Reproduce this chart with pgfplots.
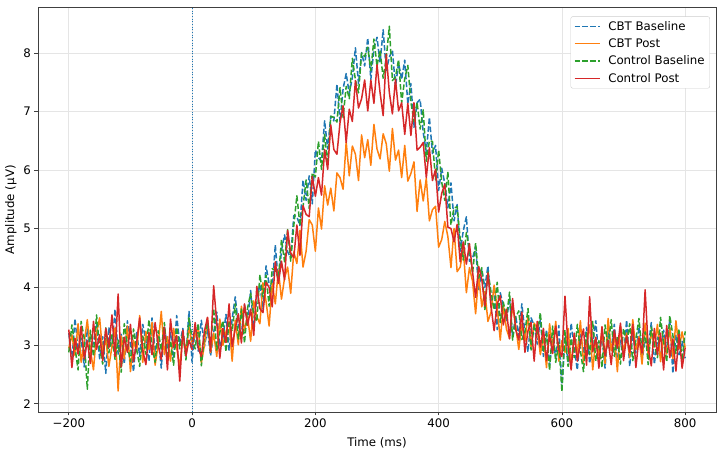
\documentclass[border=0pt]{standalone}
\usepackage{pgfplots}
\usepackage{pgfplotstable}
\usepackage{fontspec}
\setmainfont{DejaVu Sans}
\pgfplotsset{compat=1.18}
\definecolor{tabblue}{HTML}{1F77B4}
\definecolor{taborange}{HTML}{FF7F0E}
\definecolor{tabgreen}{HTML}{2CA02C}
\definecolor{tabred}{HTML}{D62728}
\newcommand\fs{\fontsize{11.8}{14}\selectfont}
\pgfplotsset{legend image code/.code={\draw[#1] (0pt,0pt) -- (25pt,0pt);}}
\pgfplotstableread{
t cb cp kb kp
-200 3.21 2.95 2.88 3.27
-195 2.74 3.18 3.35 2.62
-190 3.46 2.83 2.97 3.12
-185 2.91 3.37 2.58 2.85
-180 3.12 2.71 3.41 3.33
-175 2.63 3.05 3.12 2.77
-170 3.28 3.44 2.25 3.08
-165 2.86 2.92 3.26 2.69
-160 3.05 2.58 2.81 3.41
-155 3.38 3.21 3.52 2.93
-150 2.77 3.47 2.95 3.18
-145 3.15 2.86 2.68 2.74
-140 2.52 3.12 3.30 3.29
-135 3.31 2.64 2.87 2.96
-130 2.94 2.98 3.18 3.52
-125 3.62 3.30 2.76 2.81
-120 2.85 2.22 3.09 3.88
-115 3.19 3.16 2.54 2.63
-110 2.68 2.77 3.37 3.14
-105 3.42 3.33 3.01 2.88
-100 2.99 2.55 2.72 3.36
-95 2.55 3.08 3.28 2.72
-90 3.24 2.89 2.93 3.05
-85 2.81 3.51 2.64 3.47
-80 3.36 2.71 3.16 2.91
-75 3.07 3.24 2.85 2.67
-70 2.73 2.93 3.44 3.22
-65 3.47 3.39 2.98 2.84
-60 2.89 2.66 2.71 3.39
-55 3.14 3.02 3.25 3.01
-50 2.61 3.58 2.92 2.76
-45 3.33 2.84 3.39 3.31
-40 2.96 3.15 2.79 2.58
-35 3.22 2.73 3.08 3.45
-30 2.78 3.29 2.66 2.97
-25 3.51 2.96 3.31 3.17
-20 3.02 2.62 2.94 2.39
-15 3.29 3.19 3.22 3.26
-10 2.83 2.88 2.75 2.82
-5 3.58 3.31 3.47 3.09
0 2.71 3.04 3.12 2.93
5 3.32 3.18 2.94 3.39
10 2.90 3.30 3.38 2.96
15 3.43 2.70 2.65 2.81
20 2.98 3.00 3.17 3.24
25 3.27 3.47 3.38 3.48
30 2.82 2.88 2.96 2.90
35 3.21 3.21 3.63 4.02
40 3.57 2.81 2.92 3.39
45 2.98 3.45 3.22 2.78
50 3.13 3.00 3.42 3.29
55 3.53 3.23 2.89 3.05
60 2.91 3.41 3.39 3.71
65 3.45 2.73 3.24 2.98
70 3.83 3.43 3.71 3.29
75 3.35 3.01 3.11 3.54
80 3.19 3.67 3.62 3.04
85 3.69 3.25 3.04 3.71
90 3.41 3.50 3.64 3.34
95 3.94 3.07 3.89 3.62
100 3.27 3.76 3.52 3.17
105 3.83 3.49 3.41 4.01
110 4.04 3.37 4.21 3.63
115 3.62 4.07 3.83 3.56
120 4.36 3.75 4.20 4.08
125 4.05 3.33 3.67 3.99
130 3.98 4.06 4.31 3.66
135 4.72 3.71 4.29 4.43
140 4.06 4.29 4.13 4.06
145 4.62 3.79 4.81 4.44
150 4.89 4.15 4.43 4.12
155 4.60 4.34 4.98 4.97
160 4.50 3.89 4.44 4.58
165 5.22 4.60 5.05 4.50
170 5.20 4.40 5.56 5.06
175 5.05 4.97 5.05 4.54
180 5.83 4.34 5.37 5.39
185 5.48 4.61 5.83 5.24
190 5.90 5.15 5.34 5.20
195 5.42 5.06 5.95 5.89
200 6.34 4.61 5.88 5.55
205 6.21 5.35 6.49 5.87
210 6.15 4.99 6.01 5.57
215 6.84 5.73 6.61 6.35
220 6.36 5.40 6.08 6.01
225 6.92 5.69 6.92 6.77
230 6.84 5.30 6.90 6.35
235 7.47 5.95 6.82 6.27
240 6.83 5.87 7.41 6.81
245 7.39 5.67 6.90 7.10
250 7.65 6.48 7.43 6.47
255 7.31 5.90 7.22 7.04
260 7.58 6.41 7.91 6.83
265 8.09 6.27 7.54 7.53
270 7.48 5.82 7.32 7.06
275 8.01 6.60 8.00 7.22
280 7.78 6.21 7.94 7.54
285 8.26 6.52 8.10 7.01
290 7.55 6.08 7.70 7.54
295 8.07 6.78 8.24 7.14
300 8.27 6.36 7.78 7.80
305 7.83 6.19 8.05 7.32
310 8.40 6.62 7.57 6.93
315 7.70 6.45 7.91 7.98
320 7.93 5.98 8.46 7.33
325 8.05 6.71 7.53 6.96
330 7.42 6.17 7.59 7.55
335 7.83 6.34 7.89 7.01
340 7.55 5.87 7.15 7.15
345 7.88 6.42 7.56 6.61
350 7.13 5.81 7.79 7.14
355 7.48 5.94 7.16 6.59
360 6.73 6.14 6.83 7.15
365 7.15 5.29 7.16 6.34
370 7.21 5.83 6.70 6.39
375 6.64 5.47 7.03 6.47
380 6.31 5.86 6.15 5.87
385 6.90 5.13 6.50 6.38
390 6.28 5.32 6.49 5.82
395 6.42 5.38 5.83 6.01
400 5.65 4.68 6.34 5.28
405 6.03 4.81 5.79 5.60
410 5.77 5.12 5.48 5.76
415 5.35 4.86 5.97 5.02
420 5.78 4.33 5.06 5.00
425 5.13 5.00 5.35 4.77
430 5.41 4.26 5.37 5.07
435 4.61 4.34 4.82 4.43
440 4.96 4.65 4.46 4.77
445 5.20 3.90 4.93 4.39
450 4.44 4.33 4.64 4.74
455 4.49 4.10 4.23 4.26
460 4.69 3.54 4.75 3.82
465 3.94 4.20 4.15 4.35
470 4.31 3.66 4.33 4.13
475 3.99 3.92 3.60 3.67
480 4.36 3.41 4.27 4.24
485 3.65 3.57 3.91 3.67
490 4.01 4.03 3.61 3.25
495 3.27 3.64 4.08 3.71
500 3.90 3.09 3.39 3.85
505 3.67 3.69 3.74 3.35
510 3.40 3.28 3.46 3.62
515 3.82 3.12 3.91 3.11
520 3.14 3.70 3.09 3.80
525 3.51 3.33 3.48 3.27
530 3.15 2.93 3.59 3.09
535 3.71 3.36 3.10 3.57
540 3.21 3.07 3.23 2.88
545 2.89 3.51 3.63 3.25
550 3.47 2.97 2.92 3.39
555 3.34 3.38 3.35 2.73
560 3.02 3.29 3.18 3.41
565 3.45 2.84 3.56 2.97
570 2.81 3.16 2.88 3.29
575 3.27 2.62 3.20 2.74
580 2.66 3.37 2.57 3.18
585 3.12 2.95 3.33 2.86
590 2.79 3.41 2.71 3.33
595 3.34 2.73 3.05 2.92
600 2.27 3.08 2.21 2.81
605 3.15 2.88 3.26 3.84
610 2.72 3.29 2.64 2.97
615 3.38 2.66 3.12 2.58
620 2.94 3.18 2.79 3.21
625 2.58 2.85 3.36 2.73
630 3.19 3.42 2.91 3.05
635 2.86 2.71 2.55 3.28
640 3.31 3.03 3.22 2.66
645 2.69 3.35 2.84 3.83
650 3.04 2.58 3.41 2.89
655 3.42 3.12 2.73 3.14
660 2.75 2.83 3.08 2.61
665 3.17 3.27 2.62 3.32
670 2.61 2.69 3.35 2.82
675 3.28 3.46 2.97 3.09
680 2.93 2.91 3.44 2.67
685 3.36 3.19 2.81 3.26
690 2.70 2.55 3.15 2.95
695 3.09 3.33 2.68 3.38
700 2.81 2.87 3.29 2.74
705 3.43 3.21 3.02 3.17
710 2.64 2.79 3.37 2.88
715 3.21 3.44 2.74 3.36
720 2.87 2.93 3.11 2.62
725 3.32 3.15 3.46 3.12
730 2.73 2.68 2.89 2.87
735 3.11 3.38 3.23 3.95
740 2.95 2.82 2.67 2.96
745 3.39 3.24 3.31 2.65
750 2.68 2.97 3.02 3.29
755 3.14 3.36 2.79 2.84
760 2.79 2.72 3.48 3.21
765 3.26 3.13 3.05 2.58
770 2.91 2.85 2.72 3.34
775 3.44 3.30 3.51 2.79
780 2.52 2.77 3.17 3.11
785 3.18 3.42 2.86 2.56
790 2.84 2.94 3.28 3.19
795 3.07 3.23 2.74 2.61
800 2.78 2.96 3.24 2.96
}\erpdata
\begin{document}
\begin{tikzpicture}[font=\fs]
\begin{axis}[
  scale only axis, width=678pt, height=404.5pt,
  xmin=-250, xmax=850, ymin=1.86, ymax=8.78,
  xtick={-200,0,200,400,600,800},
  xticklabels={−200,0,200,400,600,800},
  ytick={2,3,4,5,6,7,8},
  yticklabels={2,3,4,5,6,7,8},
  tick pos=left, tick align=outside, major tick length=3.5pt,
  tick style={black!75, line width=0.8pt},
  axis line style={black!75, line width=0.8pt},
  grid=major, major grid style={black!10, line width=0.8pt},
  xlabel={Time (ms)}, ylabel={Amplitude (µV)},
  xlabel style={yshift=-3pt},
  tick label style={font=\fs},
  label style={font=\fs},
  legend cell align=left,
  legend style={at={(0.991,0.978)}, anchor=north east, draw=black!20,
    rounded corners=2pt, font=\fs, fill=white,
    inner xsep=3pt, inner ysep=2.5pt, row sep=3pt,
    /tikz/every odd column/.append style={column sep=6pt}},
  every axis plot/.append style={line join=round},
]
\addplot[color=tabblue, line width=1.5pt, dash pattern=on 5.5pt off 2.4pt] table[x=t,y=cb]{\erpdata};
\addlegendentry{CBT Baseline}
\addplot[color=taborange, line width=1.5pt] table[x=t,y=cp]{\erpdata};
\addlegendentry{CBT Post}
\addplot[color=tabgreen, line width=1.5pt, dash pattern=on 5.5pt off 2.4pt] table[x=t,y=kb]{\erpdata};
\addlegendentry{Control Baseline}
\addplot[color=tabred, line width=1.5pt] table[x=t,y=kp]{\erpdata};
\addlegendentry{Control Post}
\addplot[color=tabblue, line width=1pt, dash pattern=on 1pt off 1.65pt, forget plot] coordinates {(0,1.86) (0,8.78)};
\end{axis}
\pgfresetboundingbox
\path ([shift={(-38pt,-42pt)}]current axis.south west) rectangle ([shift={(5pt,7.5pt)}]current axis.north east);
\end{tikzpicture}
\end{document}
